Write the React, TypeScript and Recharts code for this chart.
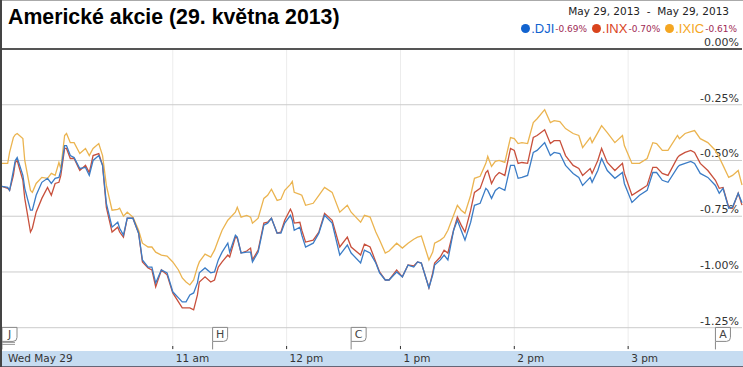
import React from 'react'
import { Line, LineChart, ReferenceDot, ReferenceLine, XAxis, YAxis } from 'recharts'

// minutes since the 9:30 open
const TIMES = [
  0, 3, 4, 6, 7, 8, 11, 12, 15, 16,
  18, 21, 24, 26, 28, 30, 31, 33, 34, 36,
  38, 41, 44, 46, 48, 51, 53, 55, 58, 61,
  62, 64, 66, 69, 72, 74, 77, 79, 81, 84,
  87, 90, 93, 95, 97, 99, 101, 103, 104, 107,
  110, 112, 114, 116, 119, 120, 123, 124, 126, 129,
  131, 132, 135, 138, 140, 142, 145, 147, 149, 152,
  153, 154, 157, 158, 160, 164, 167, 170, 174, 178,
  182, 184, 189, 191, 194, 197, 199, 202, 204, 208,
  211, 214, 217, 219, 221, 225, 227, 228, 231, 233,
  235, 238, 240, 242, 244, 247, 249, 252, 255, 256,
  258, 260, 262, 265, 268, 270, 272, 274, 277, 280,
  282, 286, 289, 291, 294, 297, 301, 304, 306, 310,
  311, 314, 316, 319, 323, 327, 328, 332, 336, 340,
  343, 345, 348, 351, 356, 357, 360, 363, 365, 368,
  372, 376, 378, 380, 383, 385, 388, 390,
]

const IXIC = [
  -0.513, -0.513, -0.464, -0.397, -0.384, -0.379, -0.402, -0.5, -0.634, -0.643,
  -0.603, -0.576, -0.58, -0.558, -0.567, -0.509, -0.536, -0.388, -0.379, -0.42,
  -0.42, -0.469, -0.446, -0.478, -0.446, -0.424, -0.478, -0.612, -0.723, -0.719,
  -0.714, -0.75, -0.732, -0.754, -0.813, -0.871, -0.888, -0.888, -0.911, -0.924,
  -0.929, -0.955, -0.991, -1.027, -1.045, -1.058, -1.036, -0.978, -0.955, -0.92,
  -0.933, -0.902, -0.857, -0.813, -0.768, -0.759, -0.732, -0.71, -0.754, -0.746,
  -0.754, -0.781, -0.759, -0.67, -0.656, -0.629, -0.679, -0.674, -0.634, -0.607,
  -0.594, -0.643, -0.652, -0.656, -0.701, -0.692, -0.656, -0.621, -0.643, -0.732,
  -0.701, -0.732, -0.777, -0.746, -0.754, -0.821, -0.857, -0.915, -0.906, -0.871,
  -0.893, -0.871, -0.853, -0.844, -0.839, -0.946, -0.911, -0.871, -0.857, -0.844,
  -0.813, -0.746, -0.701, -0.723, -0.737, -0.656, -0.58, -0.571, -0.513, -0.482,
  -0.527, -0.504, -0.5, -0.509, -0.397, -0.402, -0.424, -0.42, -0.424, -0.33,
  -0.313, -0.272, -0.33, -0.321, -0.326, -0.357, -0.379, -0.388, -0.442, -0.397,
  -0.42, -0.375, -0.344, -0.375, -0.42, -0.388, -0.433, -0.513, -0.513, -0.491,
  -0.42, -0.424, -0.455, -0.455, -0.388, -0.402, -0.379, -0.371, -0.366, -0.402,
  -0.42, -0.455, -0.487, -0.522, -0.576, -0.567, -0.545, -0.61,
]

const DJI = [
  -0.616, -0.621, -0.634, -0.545, -0.5, -0.487, -0.567, -0.625, -0.723, -0.723,
  -0.656, -0.598, -0.58, -0.603, -0.58, -0.576, -0.545, -0.433, -0.433, -0.478,
  -0.487, -0.536, -0.531, -0.567, -0.5, -0.478, -0.522, -0.692, -0.799, -0.777,
  -0.804, -0.835, -0.759, -0.759, -0.826, -0.946, -0.978, -0.978, -1.049, -0.991,
  -1.004, -1.089, -1.116, -1.134, -1.134, -1.103, -1.094, -1.049, -1.004, -0.982,
  -1.004, -1.0, -0.946, -0.911, -0.871, -0.911, -0.835, -0.844, -0.915, -0.911,
  -0.911, -0.955, -0.911, -0.79, -0.781, -0.759, -0.826, -0.826, -0.781, -0.746,
  -0.768, -0.813, -0.799, -0.835, -0.888, -0.871, -0.826, -0.746, -0.781, -0.924,
  -0.879, -0.915, -0.96, -0.902, -0.915, -0.96, -1.004, -1.036, -1.036, -1.0,
  -1.022, -0.969, -0.978, -0.955, -0.96, -1.071, -1.013, -0.969, -0.946, -0.924,
  -0.946, -0.813, -0.768, -0.813, -0.857, -0.777, -0.701, -0.692, -0.625, -0.634,
  -0.67, -0.634, -0.621, -0.634, -0.522, -0.522, -0.58, -0.576, -0.567, -0.464,
  -0.455, -0.42, -0.478, -0.464, -0.469, -0.522, -0.558, -0.576, -0.612, -0.576,
  -0.598, -0.545, -0.491, -0.545, -0.58, -0.554, -0.603, -0.688, -0.656, -0.634,
  -0.554, -0.554, -0.589, -0.598, -0.531, -0.522, -0.513, -0.504, -0.513, -0.558,
  -0.576, -0.612, -0.647, -0.625, -0.714, -0.71, -0.647, -0.69,
]

const INX = [
  -0.616, -0.625, -0.634, -0.567, -0.509, -0.5, -0.589, -0.67, -0.821, -0.804,
  -0.732, -0.67, -0.621, -0.656, -0.603, -0.598, -0.567, -0.446, -0.446, -0.491,
  -0.491, -0.545, -0.522, -0.554, -0.478, -0.469, -0.522, -0.71, -0.821, -0.799,
  -0.821, -0.844, -0.759, -0.759, -0.826, -0.955, -0.982, -0.991, -1.067, -0.991,
  -1.013, -1.094, -1.134, -1.161, -1.161, -1.161, -1.17, -1.103, -1.045, -1.022,
  -1.045, -1.036, -0.978, -0.955, -0.924, -0.933, -0.844, -0.848, -0.915, -0.906,
  -0.893, -0.946, -0.902, -0.781, -0.777, -0.759, -0.826, -0.821, -0.768, -0.719,
  -0.737, -0.781, -0.777, -0.813, -0.866, -0.857, -0.821, -0.737, -0.768, -0.888,
  -0.844, -0.888, -0.924, -0.875, -0.888, -0.955, -1.0, -1.036, -1.036, -0.991,
  -1.022, -0.969, -0.973, -0.955, -0.96, -1.071, -1.004, -0.96, -0.933, -0.902,
  -0.915, -0.813, -0.754, -0.79, -0.821, -0.723, -0.643, -0.625, -0.554, -0.545,
  -0.603, -0.571, -0.554, -0.567, -0.446, -0.455, -0.513, -0.509, -0.513, -0.397,
  -0.388, -0.362, -0.424, -0.411, -0.411, -0.478, -0.522, -0.536, -0.567, -0.536,
  -0.558, -0.5, -0.446, -0.509, -0.545, -0.513, -0.558, -0.656, -0.634, -0.612,
  -0.531, -0.531, -0.558, -0.567, -0.487, -0.478, -0.464, -0.455, -0.464, -0.513,
  -0.545, -0.589, -0.625, -0.621, -0.71, -0.714, -0.647, -0.7,
]

const X_TICKS = [0, 90, 150, 210, 270, 330]
const X_LABELS = ['Wed May 29', '11 am', '12 pm', '1 pm', '2 pm', '3 pm']
const Y_TICKS = [0, -0.25, -0.5, -0.75, -1, -1.25]

const FLAG_TIMES = [0, 111, 184, 376]
const FLAG_LETTERS = ['J', 'H', 'C', 'A']
const FLAG_Y = -1.28

const SERIES = [
  { key: 'dji', name: '.DJI', change: '-0.69%', color: '#3b7cc6', dot: '#1263cf' },
  { key: 'inx', name: '.INX', change: '-0.70%', color: '#c8503c', dot: '#d9441d' },
  { key: 'ixic', name: '.IXIC', change: '-0.61%', color: '#ebb450', dot: '#f4a622' },
]

const data = TIMES.map((t, i) => ({ t, dji: DJI[i], inx: INX[i], ixic: IXIC[i] }))

const AXIS_FONT = '"DejaVu Sans", Verdana, sans-serif'

function XTick(props: any) {
  const { x, y, payload } = props
  const idx = X_TICKS.indexOf(payload.value)
  return (
    <g>
      {idx > 0 && <line x1={x} x2={x} y1={y - 4} y2={y - 1} stroke="#333" />}
      <text x={idx === 0 ? x + 6 : x + 3} y={y + 12} fontSize={10.5} fill="#333" fontFamily={AXIS_FONT}>
        {X_LABELS[idx]}
      </text>
    </g>
  )
}

function yLabel(v: number) {
  return (props: any) => {
    const vb = props.viewBox || {}
    const right = (vb.x || 0) + (vb.width || 0)
    return (
      <text x={right - 3} y={(vb.y || 0) - 3} textAnchor="end" fontSize={11} fill="#333" fontFamily={AXIS_FONT}>
        {v.toFixed(2) + '%'}
      </text>
    )
  }
}

function Flag(letter: string) {
  return (props: any) => {
    const { cx, cy } = props
    const x = cx
    const y = cy - 7
    return (
      <g>
        <line x1={x} x2={x} y1={y + 14} y2={y + 22} stroke="#888" />
        {letter === 'J' && (
          <>
            <line x1={x} x2={x + 13} y1={y + 15} y2={y + 15} stroke="#999" />
            <line x1={x} x2={x + 13} y1={y + 17} y2={y + 17} stroke="#999" />
          </>
        )}
        <path
          d={`M${x},${y} H${x + 15} V${y + 10} Q${x + 15},${y + 14} ${x + 11},${y + 14} H${x} Z`}
          fill="#fff"
          stroke="#888"
        />
        <text x={x + 7.5} y={y + 11} textAnchor="middle" fontSize={11} fill="#444" fontFamily={AXIS_FONT}>
          {letter}
        </text>
      </g>
    )
  }
}

export default function App() {
  return (
    <div
      style={{
        position: 'fixed',
        left: 0,
        top: 0,
        width: 743,
        height: 367,
        overflow: 'hidden',
        background: '#fff',
        fontFamily: AXIS_FONT,
      }}
    >
      <div style={{ position: 'absolute', left: 0, top: 0, width: 743, height: 1, background: '#aaa' }} />
      <div style={{ position: 'absolute', left: 0, top: 351, width: 743, height: 16, background: '#c6dcf1' }} />
      <div style={{ position: 'absolute', left: 0, top: 366, width: 743, height: 1, background: '#667' }} />
      <div
        style={{
          position: 'absolute',
          left: 8,
          top: 5,
          fontFamily: '"Liberation Sans", Arial, sans-serif',
          fontWeight: 'bold',
          fontSize: 21.3,
          color: '#000',
          whiteSpace: 'nowrap',
        }}
      >
        Americké akcie (29. května 2013)
      </div>
      <div
        style={{
          position: 'absolute',
          right: 14,
          top: 5,
          fontSize: 10.5,
          color: '#222',
          whiteSpace: 'pre',
        }}
      >
        {'May 29, 2013  -  May 29, 2013'}
      </div>
      <div
        style={{
          position: 'absolute',
          right: 6,
          top: 21,
          display: 'flex',
          alignItems: 'center',
          whiteSpace: 'nowrap',
        }}
      >
        {SERIES.map((s) => (
          <span key={s.key} style={{ display: 'flex', alignItems: 'center', marginLeft: 5 }}>
            <span
              style={{ width: 9, height: 9, borderRadius: 5, background: s.dot, display: 'inline-block', marginRight: 1 }}
            />
            <span style={{ fontFamily: '"Liberation Sans", Arial, sans-serif', fontSize: 13, color: s.dot }}>{s.name}</span>
            <span style={{ fontSize: 9, color: '#a02a55', marginLeft: 1 }}>{s.change}</span>
          </span>
        ))}
      </div>
      <div style={{ position: 'absolute', left: 0, top: 0 }}>
        <LineChart width={743} height={367} data={data} margin={{ top: 49, right: 1, bottom: 0, left: 2 }}>
          <XAxis
            dataKey="t"
            type="number"
            domain={[0, 390]}
            ticks={X_TICKS}
            height={17}
            axisLine={false}
            tickLine={false}
            tickSize={0}
            tickMargin={0}
            tick={<XTick />}
            interval={0}
          />
          <YAxis
            type="number"
            domain={[-1.35, 0]}
            ticks={Y_TICKS}
            orientation="right"
            mirror
            width={0}
            axisLine={false}
            tickLine={false}
            tick={false}
          />
          {X_TICKS.slice(1).map((t) => (
            <ReferenceLine key={t} x={t} stroke="#ececec" />
          ))}
          {Y_TICKS.map((v) => (
            <ReferenceLine
              key={'y' + v}
              y={v}
              stroke={v === 0 ? '#555' : '#cbcbcb'}
              strokeWidth={v === 0 ? 2 : 1}
              ifOverflow="visible"
              label={yLabel(v)}
            />
          ))}
          {SERIES.slice()
            .reverse()
            .map((s) => (
              <Line
                key={s.key}
                dataKey={s.key}
                stroke={s.color}
                strokeWidth={1.3}
                dot={false}
                type="linear"
                isAnimationActive={false}
              />
            ))}
          {FLAG_TIMES.map((t, i) => (
            <ReferenceDot key={t} x={t} y={FLAG_Y} r={0} shape={Flag(FLAG_LETTERS[i])} ifOverflow="visible" />
          ))}
        </LineChart>
      </div>
      <div style={{ position: 'absolute', left: 0, top: 0, width: 2, height: 367, background: '#444' }} />
    </div>
  )
}
